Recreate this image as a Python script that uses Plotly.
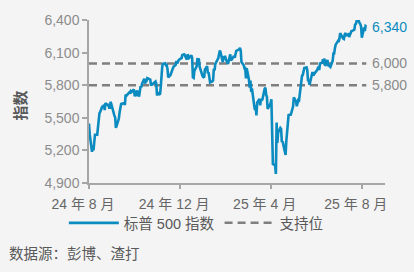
import plotly.graph_objects as go

# ---- data -------------------------------------------------------------
dates = [
    # 2024-08
    "2024-08-01", "2024-08-02", "2024-08-05", "2024-08-06", "2024-08-07", "2024-08-08", "2024-08-09",
    "2024-08-12", "2024-08-13", "2024-08-14", "2024-08-15", "2024-08-16", "2024-08-19", "2024-08-20",
    "2024-08-21", "2024-08-22", "2024-08-23", "2024-08-26", "2024-08-27", "2024-08-28", "2024-08-29",
    "2024-08-30",
    # 2024-09
    "2024-09-03", "2024-09-04", "2024-09-05", "2024-09-06", "2024-09-09", "2024-09-10", "2024-09-11",
    "2024-09-12", "2024-09-13", "2024-09-16", "2024-09-17", "2024-09-18", "2024-09-19", "2024-09-20",
    "2024-09-23", "2024-09-24", "2024-09-25", "2024-09-26", "2024-09-27", "2024-09-30",
    # 2024-10
    "2024-10-01", "2024-10-02", "2024-10-03", "2024-10-04", "2024-10-07", "2024-10-08", "2024-10-09",
    "2024-10-10", "2024-10-11", "2024-10-14", "2024-10-15", "2024-10-16", "2024-10-17", "2024-10-18",
    "2024-10-21", "2024-10-22", "2024-10-23", "2024-10-24", "2024-10-25", "2024-10-28", "2024-10-29",
    "2024-10-30", "2024-10-31",
    # 2024-11
    "2024-11-01", "2024-11-04", "2024-11-05", "2024-11-06", "2024-11-07", "2024-11-08", "2024-11-11",
    "2024-11-12", "2024-11-13", "2024-11-14", "2024-11-15", "2024-11-18", "2024-11-19", "2024-11-20",
    "2024-11-21", "2024-11-22", "2024-11-25", "2024-11-26", "2024-11-27", "2024-11-29",
    # 2024-12
    "2024-12-02", "2024-12-03", "2024-12-04", "2024-12-05", "2024-12-06", "2024-12-09", "2024-12-10",
    "2024-12-11", "2024-12-12", "2024-12-13", "2024-12-16", "2024-12-17", "2024-12-18", "2024-12-19",
    "2024-12-20", "2024-12-23", "2024-12-24", "2024-12-26", "2024-12-27", "2024-12-30", "2024-12-31",
    # 2025-01
    "2025-01-02", "2025-01-03", "2025-01-06", "2025-01-07", "2025-01-08", "2025-01-10", "2025-01-13",
    "2025-01-14", "2025-01-15", "2025-01-16", "2025-01-17", "2025-01-21", "2025-01-22", "2025-01-23",
    "2025-01-24", "2025-01-27", "2025-01-28", "2025-01-29", "2025-01-30", "2025-01-31",
    # 2025-02
    "2025-02-03", "2025-02-04", "2025-02-05", "2025-02-06", "2025-02-07", "2025-02-10", "2025-02-11",
    "2025-02-12", "2025-02-13", "2025-02-14", "2025-02-18", "2025-02-19", "2025-02-20", "2025-02-21",
    "2025-02-24", "2025-02-25", "2025-02-26", "2025-02-27", "2025-02-28",
    # 2025-03
    "2025-03-03", "2025-03-04", "2025-03-05", "2025-03-06", "2025-03-07", "2025-03-10", "2025-03-11",
    "2025-03-12", "2025-03-13", "2025-03-14", "2025-03-17", "2025-03-18", "2025-03-19", "2025-03-20",
    "2025-03-21", "2025-03-24", "2025-03-25", "2025-03-26", "2025-03-27", "2025-03-28", "2025-03-31",
    # 2025-04
    "2025-04-01", "2025-04-02", "2025-04-03", "2025-04-04", "2025-04-07", "2025-04-08", "2025-04-09",
    "2025-04-10", "2025-04-11", "2025-04-14", "2025-04-15", "2025-04-16", "2025-04-17", "2025-04-21",
    "2025-04-22", "2025-04-23", "2025-04-24", "2025-04-25", "2025-04-28", "2025-04-29", "2025-04-30",
    # 2025-05
    "2025-05-01", "2025-05-02", "2025-05-05", "2025-05-06", "2025-05-07", "2025-05-08", "2025-05-09",
    "2025-05-12", "2025-05-13", "2025-05-14", "2025-05-15", "2025-05-16", "2025-05-19", "2025-05-20",
    "2025-05-21", "2025-05-22", "2025-05-23", "2025-05-27", "2025-05-28", "2025-05-29", "2025-05-30",
    # 2025-06
    "2025-06-02", "2025-06-03", "2025-06-04", "2025-06-05", "2025-06-06", "2025-06-09", "2025-06-10",
    "2025-06-11", "2025-06-12", "2025-06-13", "2025-06-16", "2025-06-17", "2025-06-18", "2025-06-20",
    "2025-06-23", "2025-06-24", "2025-06-25", "2025-06-26", "2025-06-27", "2025-06-30",
    # 2025-07
    "2025-07-01", "2025-07-02", "2025-07-03", "2025-07-07", "2025-07-08", "2025-07-09", "2025-07-10",
    "2025-07-11", "2025-07-14", "2025-07-15", "2025-07-16", "2025-07-17", "2025-07-18", "2025-07-21",
    "2025-07-22", "2025-07-23", "2025-07-24", "2025-07-25", "2025-07-28", "2025-07-29", "2025-07-30",
    "2025-07-31",
    # 2025-08
    "2025-08-01", "2025-08-04", "2025-08-05", "2025-08-06", "2025-08-07",
]

spx = [
    # 2024-08
    5447, 5347, 5186, 5240, 5200, 5319, 5344, 5344, 5434, 5455, 5543, 5554, 5608, 5597,
    5621, 5571, 5635, 5617, 5626, 5592, 5592, 5648,
    # 2024-09
    5529, 5520, 5503, 5408, 5471, 5496, 5554, 5596, 5626, 5633, 5635, 5618, 5714, 5703,
    5719, 5733, 5722, 5745, 5738, 5762,
    # 2024-10
    5709, 5710, 5700, 5751, 5696, 5751, 5792, 5780, 5815, 5860, 5815, 5842, 5841, 5865,
    5854, 5851, 5797, 5810, 5808, 5824, 5833, 5814, 5705,
    # 2024-11
    5729, 5713, 5783, 5929, 5973, 5996, 6001, 5984, 5985, 5949, 5871, 5894, 5917, 5917,
    5949, 5969, 5987, 6022, 5999, 6032,
    # 2024-12
    6047, 6050, 6086, 6075, 6090, 6053, 6035, 6084, 6051, 6051, 6074, 6051, 5872, 5867,
    5931, 5974, 6040, 6038, 5971, 5907, 5882,
    # 2025-01
    5869, 5942, 5975, 5909, 5918, 5827, 5836, 5843, 5950, 5937, 5997, 6049, 6086, 6119,
    6101, 6012, 6068, 6039, 6071, 6041,
    # 2025-02
    5995, 6038, 6061, 6084, 6026, 6066, 6069, 6052, 6115, 6115, 6130, 6144, 6118, 6013,
    5983, 5955, 5956, 5862, 5955,
    # 2025-03
    5850, 5778, 5843, 5739, 5770, 5615, 5572, 5599, 5522, 5639, 5675, 5615, 5675, 5663,
    5668, 5768, 5777, 5712, 5693, 5581, 5612,
    # 2025-04
    5633, 5671, 5397, 5074, 5062, 4983, 5457, 5268, 5363, 5406, 5397, 5276, 5283, 5158,
    5288, 5376, 5485, 5525, 5529, 5561, 5569,
    # 2025-05
    5604, 5687, 5650, 5607, 5631, 5664, 5660, 5844, 5887, 5893, 5917, 5958, 5964, 5940,
    5845, 5842, 5803, 5922, 5889, 5912, 5912,
    # 2025-06
    5936, 5970, 5971, 5939, 6000, 6006, 6039, 6022, 6045, 5977, 6033, 5983, 5981, 5968,
    6025, 6092, 6092, 6141, 6173, 6205,
    # 2025-07
    6198, 6227, 6279, 6230, 6226, 6263, 6280, 6260, 6269, 6244, 6264, 6297, 6297, 6306,
    6310, 6359, 6363, 6389, 6390, 6371, 6363, 6339,
    # 2025-08
    6238, 6330, 6299, 6345, 6340,
]

support_levels = [6000, 5800]
y_ticks = [4900, 5200, 5500, 5800, 6100, 6400]
x_ticks = ["2024-08-01", "2024-12-01", "2025-04-01", "2025-08-01"]
x_tick_labels = ["24 年 8 月", "24 年 12 月", "25 年 4 月", "25 年 8 月"]
series_name = "标普 500 指数"
support_name = "支持位"
y_title = "指数"
source_text = "数据源：彭博、渣打"

# ---- styles -----------------------------------------------------------
BLUE = "#0B8BC0"
DASH_GRAY = "#7F7F7F"
AXIS_GRAY = "#A6A6A6"
FONT = "Liberation Sans, Arial, Noto Sans CJK SC, sans-serif"
BG = "#F4F4F4"

fig = go.Figure()

for i, lvl in enumerate(support_levels):
    fig.add_trace(go.Scatter(
        x=[dates[0], dates[-1]], y=[lvl, lvl], mode="lines",
        line=dict(color=DASH_GRAY, width=2.5, dash="8px,5px"),
        name=support_name, showlegend=(i == 0), legendrank=2,
        hoverinfo="skip",
    ))

fig.add_trace(go.Scatter(
    x=dates, y=spx, mode="lines",
    line=dict(color=BLUE, width=2.6),
    name=series_name, legendrank=1,
))

annotations = [
    dict(x=dates[-1], y=spx[-1], xref="x", yref="y", text=f"{spx[-1]:,}",
         showarrow=False, xanchor="left", yanchor="middle", xshift=4,
         font=dict(size=14, color=BLUE, family=FONT)),
]
for lvl in support_levels:
    annotations.append(dict(
        x=dates[-1], y=lvl, xref="x", yref="y", text=f"{lvl:,}",
        showarrow=False, xanchor="left", yanchor="middle", xshift=4,
        font=dict(size=14, color="#8A8A8A", family=FONT)))
annotations.append(dict(
    x=0, y=0.5, xref="paper", yref="paper", xshift=-69, yshift=-4, text=f"<b>{y_title}</b>",
    textangle=-90, showarrow=False, xanchor="center", yanchor="middle",
    font=dict(size=15, color="#595959", family=FONT)))
annotations.append(dict(
    x=0, y=0, xref="paper", yref="paper", xshift=-82, yshift=-71, text=source_text,
    showarrow=False, xanchor="left", yanchor="middle",
    font=dict(size=14.5, color="#595959", family=FONT)))

fig.update_layout(
    width=414, height=272,
    margin=dict(l=89, r=29, t=16, b=89, pad=0),
    paper_bgcolor=BG, plot_bgcolor=BG,
    font=dict(family=FONT, color="#595959"),
    showlegend=True,
    legend=dict(orientation="h", x=-0.085, y=-0.245, xanchor="left", yanchor="middle",
                font=dict(size=14.5, color="#595959", family=FONT),
                bgcolor="rgba(0,0,0,0)", itemwidth=50, traceorder="normal"),
    annotations=annotations,
    xaxis=dict(
        type="date", range=["2024-08-01", "2025-09-01"],
        tickmode="array", tickvals=x_ticks, ticktext=x_tick_labels,
        ticks="outside", ticklen=4, tickcolor=AXIS_GRAY, tickwidth=1.5,
        showline=True, linecolor=AXIS_GRAY, linewidth=1.5,
        showgrid=False, zeroline=False, ticklabelshift=-6, ticklabelstandoff=3,
        tickfont=dict(size=14, color="#666666", family=FONT),
    ),
    yaxis=dict(
        range=[4900, 6400],
        tickmode="array", tickvals=y_ticks, ticktext=[f"{v:,}" for v in y_ticks],
        ticks="outside", ticklen=5, tickcolor=AXIS_GRAY, tickwidth=1.5,
        showline=True, linecolor=AXIS_GRAY, linewidth=1.5,
        showgrid=False, zeroline=False,
        tickfont=dict(size=14, color="#8C8C8C", family=FONT),
    ),
)

fig.write_html("out.html")
